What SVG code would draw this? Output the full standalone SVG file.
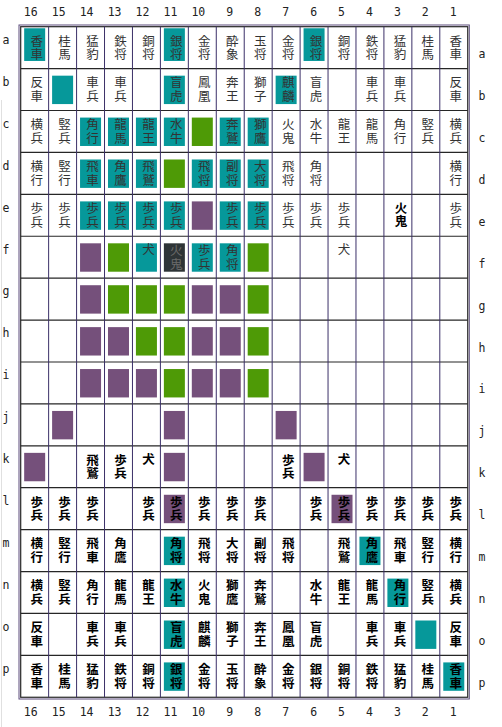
<svg xmlns="http://www.w3.org/2000/svg" width="502" height="727" viewBox="0 0 502 727">
<style>
.t{fill:#06989a}.g{fill:#4e9a06}.v{fill:#75507b}.k{fill:#2e3436}
text.p{font-family:"Noto Sans CJK JP","Noto Sans CJK SC",sans-serif;font-size:12.5px;text-anchor:middle;fill:#333}
text.b{font-weight:bold;fill:#000}
text.d{fill:#6a6a6a}
.lbl{font-family:"DejaVu Sans Mono",monospace;font-size:11.5px;fill:#222}
.cl{text-anchor:end}.rl{text-anchor:middle}
.hl{stroke:#262626;stroke-width:1.2}.vl{stroke:#3b3068;stroke-width:1}
</style>
<defs>
<rect id="sq" x="-10.5" y="-13.9" width="21" height="28.4"/>
<rect id="sqa" x="-10.5" y="-19.4" width="21" height="32.7"/>
</defs>
<rect width="502" height="727" fill="#fff"/>
<line x1="1.5" y1="100" x2="1.5" y2="727" stroke="#e0e0e0" stroke-width="1"/>
<g id="board">
<rect x="19" y="25" width="450.3" height="674" fill="none" stroke="#5c4d7d" stroke-width="1"/>
<rect x="20.7" y="26.7" width="447.04" height="670.56" fill="none" stroke="#262626" stroke-width="1.2"/>
<g class="hl">
<line x1="20.7" x2="467.74" y1="68.61" y2="68.61"/><line x1="20.7" x2="467.74" y1="110.52" y2="110.52"/><line x1="20.7" x2="467.74" y1="152.43" y2="152.43"/><line x1="20.7" x2="467.74" y1="194.34" y2="194.34"/><line x1="20.7" x2="467.74" y1="236.25" y2="236.25"/><line x1="20.7" x2="467.74" y1="278.16" y2="278.16"/><line x1="20.7" x2="467.74" y1="320.07" y2="320.07"/><line x1="20.7" x2="467.74" y1="361.98" y2="361.98"/><line x1="20.7" x2="467.74" y1="403.89" y2="403.89"/><line x1="20.7" x2="467.74" y1="445.8" y2="445.8"/><line x1="20.7" x2="467.74" y1="487.71" y2="487.71"/><line x1="20.7" x2="467.74" y1="529.62" y2="529.62"/><line x1="20.7" x2="467.74" y1="571.53" y2="571.53"/><line x1="20.7" x2="467.74" y1="613.44" y2="613.44"/><line x1="20.7" x2="467.74" y1="655.35" y2="655.35"/>
</g>
<g class="vl">
<line y1="26.7" y2="697.26" x1="48.64" x2="48.64"/><line y1="26.7" y2="697.26" x1="76.58" x2="76.58"/><line y1="26.7" y2="697.26" x1="104.52" x2="104.52"/><line y1="26.7" y2="697.26" x1="132.46" x2="132.46"/><line y1="26.7" y2="697.26" x1="160.4" x2="160.4"/><line y1="26.7" y2="697.26" x1="188.34" x2="188.34"/><line y1="26.7" y2="697.26" x1="216.28" x2="216.28"/><line y1="26.7" y2="697.26" x1="244.22" x2="244.22"/><line y1="26.7" y2="697.26" x1="272.16" x2="272.16"/><line y1="26.7" y2="697.26" x1="300.1" x2="300.1"/><line y1="26.7" y2="697.26" x1="328.04" x2="328.04"/><line y1="26.7" y2="697.26" x1="355.98" x2="355.98"/><line y1="26.7" y2="697.26" x1="383.92" x2="383.92"/><line y1="26.7" y2="697.26" x1="411.86" x2="411.86"/><line y1="26.7" y2="697.26" x1="439.8" x2="439.8"/>
</g>
</g>
<g id="labels" class="lbl">
<g class="cl">
<text x="37.7" y="16">16</text><text x="65.6" y="16">15</text><text x="93.5" y="16">14</text><text x="121.5" y="16">13</text><text x="149.4" y="16">12</text><text x="177.4" y="16">11</text><text x="205.3" y="16">10</text><text x="233.3" y="16">9</text><text x="261.2" y="16">8</text><text x="289.1" y="16">7</text><text x="317.1" y="16">6</text><text x="345" y="16">5</text><text x="373" y="16">4</text><text x="400.9" y="16">3</text><text x="428.8" y="16">2</text><text x="456.8" y="16">1</text>
<text x="37.7" y="716">16</text><text x="65.6" y="716">15</text><text x="93.5" y="716">14</text><text x="121.5" y="716">13</text><text x="149.4" y="716">12</text><text x="177.4" y="716">11</text><text x="205.3" y="716">10</text><text x="233.3" y="716">9</text><text x="261.2" y="716">8</text><text x="289.1" y="716">7</text><text x="317.1" y="716">6</text><text x="345" y="716">5</text><text x="373" y="716">4</text><text x="400.9" y="716">3</text><text x="428.8" y="716">2</text><text x="456.8" y="716">1</text>
</g>
<g class="rl">
<text x="6" y="44">a</text><text x="6" y="85.9">b</text><text x="6" y="127.8">c</text><text x="6" y="169.7">d</text><text x="6" y="211.6">e</text><text x="6" y="253.5">f</text><text x="6" y="295.4">g</text><text x="6" y="337.3">h</text><text x="6" y="379.2">i</text><text x="6" y="421.1">j</text><text x="6" y="463">k</text><text x="6" y="504.9">l</text><text x="6" y="546.8">m</text><text x="6" y="588.7">n</text><text x="6" y="630.6">o</text><text x="6" y="672.5">p</text>
<text x="482" y="58.2">a</text><text x="482" y="100.1">b</text><text x="482" y="142">c</text><text x="482" y="183.9">d</text><text x="482" y="225.8">e</text><text x="482" y="267.7">f</text><text x="482" y="309.6">g</text><text x="482" y="351.5">h</text><text x="482" y="393.4">i</text><text x="482" y="435.3">j</text><text x="482" y="477.2">k</text><text x="482" y="519.1">l</text><text x="482" y="561">m</text><text x="482" y="602.9">n</text><text x="482" y="644.8">o</text><text x="482" y="686.7">p</text>
</g>
</g>
<!-- row a -->
<g id="a16" transform="translate(34.67 47.66)"><use href="#sqa" class="t"/><text class="p" x="2" y="-2.1">香<tspan x="2" y="11.3">車</tspan></text></g>
<g id="a15" transform="translate(62.61 47.66)"><text class="p" x="2" y="-2.1">桂<tspan x="2" y="11.3">馬</tspan></text></g>
<g id="a14" transform="translate(90.55 47.66)"><text class="p" x="2" y="-2.1">猛<tspan x="2" y="11.3">豹</tspan></text></g>
<g id="a13" transform="translate(118.49 47.66)"><text class="p" x="2" y="-2.1">鉄<tspan x="2" y="11.3">将</tspan></text></g>
<g id="a12" transform="translate(146.43 47.66)"><text class="p" x="2" y="-2.1">銅<tspan x="2" y="11.3">将</tspan></text></g>
<g id="a11" transform="translate(174.37 47.66)"><use href="#sqa" class="t"/><text class="p" x="2" y="-2.1">銀<tspan x="2" y="11.3">将</tspan></text></g>
<g id="a10" transform="translate(202.31 47.66)"><text class="p" x="2" y="-2.1">金<tspan x="2" y="11.3">将</tspan></text></g>
<g id="a9" transform="translate(230.25 47.66)"><text class="p" x="2" y="-2.1">酔<tspan x="2" y="11.3">象</tspan></text></g>
<g id="a8" transform="translate(258.19 47.66)"><text class="p" x="2" y="-2.1">玉<tspan x="2" y="11.3">将</tspan></text></g>
<g id="a7" transform="translate(286.13 47.66)"><text class="p" x="2" y="-2.1">金<tspan x="2" y="11.3">将</tspan></text></g>
<g id="a6" transform="translate(314.07 47.66)"><use href="#sqa" class="t"/><text class="p" x="2" y="-2.1">銀<tspan x="2" y="11.3">将</tspan></text></g>
<g id="a5" transform="translate(342.01 47.66)"><text class="p" x="2" y="-2.1">銅<tspan x="2" y="11.3">将</tspan></text></g>
<g id="a4" transform="translate(369.95 47.66)"><text class="p" x="2" y="-2.1">鉄<tspan x="2" y="11.3">将</tspan></text></g>
<g id="a3" transform="translate(397.89 47.66)"><text class="p" x="2" y="-2.1">猛<tspan x="2" y="11.3">豹</tspan></text></g>
<g id="a2" transform="translate(425.83 47.66)"><text class="p" x="2" y="-2.1">桂<tspan x="2" y="11.3">馬</tspan></text></g>
<g id="a1" transform="translate(453.77 47.66)"><text class="p" x="2" y="-2.1">香<tspan x="2" y="11.3">車</tspan></text></g>
<!-- row b -->
<g id="b16" transform="translate(34.67 89.57)"><text class="p" x="2" y="-2.1">反<tspan x="2" y="11.3">車</tspan></text></g>
<g id="b15" transform="translate(62.61 89.57)"><use href="#sq" class="t"/></g>
<g id="b14" transform="translate(90.55 89.57)"><text class="p" x="2" y="-2.1">車<tspan x="2" y="11.3">兵</tspan></text></g>
<g id="b13" transform="translate(118.49 89.57)"><text class="p" x="2" y="-2.1">車<tspan x="2" y="11.3">兵</tspan></text></g>
<g id="b11" transform="translate(174.37 89.57)"><use href="#sq" class="t"/><text class="p" x="2" y="-2.1">盲<tspan x="2" y="11.3">虎</tspan></text></g>
<g id="b10" transform="translate(202.31 89.57)"><text class="p" x="2" y="-2.1">鳳<tspan x="2" y="11.3">凰</tspan></text></g>
<g id="b9" transform="translate(230.25 89.57)"><text class="p" x="2" y="-2.1">奔<tspan x="2" y="11.3">王</tspan></text></g>
<g id="b8" transform="translate(258.19 89.57)"><text class="p" x="2" y="-2.1">獅<tspan x="2" y="11.3">子</tspan></text></g>
<g id="b7" transform="translate(286.13 89.57)"><use href="#sq" class="t"/><text class="p" x="2" y="-2.1">麒<tspan x="2" y="11.3">麟</tspan></text></g>
<g id="b6" transform="translate(314.07 89.57)"><text class="p" x="2" y="-2.1">盲<tspan x="2" y="11.3">虎</tspan></text></g>
<g id="b4" transform="translate(369.95 89.57)"><text class="p" x="2" y="-2.1">車<tspan x="2" y="11.3">兵</tspan></text></g>
<g id="b3" transform="translate(397.89 89.57)"><text class="p" x="2" y="-2.1">車<tspan x="2" y="11.3">兵</tspan></text></g>
<g id="b1" transform="translate(453.77 89.57)"><text class="p" x="2" y="-2.1">反<tspan x="2" y="11.3">車</tspan></text></g>
<!-- row c -->
<g id="c16" transform="translate(34.67 131.48)"><text class="p" x="2" y="-2.1">横<tspan x="2" y="11.3">兵</tspan></text></g>
<g id="c15" transform="translate(62.61 131.48)"><text class="p" x="2" y="-2.1">竪<tspan x="2" y="11.3">兵</tspan></text></g>
<g id="c14" transform="translate(90.55 131.48)"><use href="#sq" class="t"/><text class="p" x="2" y="-2.1">角<tspan x="2" y="11.3">行</tspan></text></g>
<g id="c13" transform="translate(118.49 131.48)"><use href="#sq" class="t"/><text class="p" x="2" y="-2.1">龍<tspan x="2" y="11.3">馬</tspan></text></g>
<g id="c12" transform="translate(146.43 131.48)"><use href="#sq" class="t"/><text class="p" x="2" y="-2.1">龍<tspan x="2" y="11.3">王</tspan></text></g>
<g id="c11" transform="translate(174.37 131.48)"><use href="#sq" class="t"/><text class="p" x="2" y="-2.1">水<tspan x="2" y="11.3">牛</tspan></text></g>
<g id="c10" transform="translate(202.31 131.48)"><use href="#sq" class="g"/></g>
<g id="c9" transform="translate(230.25 131.48)"><use href="#sq" class="t"/><text class="p" x="2" y="-2.1">奔<tspan x="2" y="11.3">鷲</tspan></text></g>
<g id="c8" transform="translate(258.19 131.48)"><use href="#sq" class="t"/><text class="p" x="2" y="-2.1">獅<tspan x="2" y="11.3">鷹</tspan></text></g>
<g id="c7" transform="translate(286.13 131.48)"><text class="p" x="2" y="-2.1">火<tspan x="2" y="11.3">鬼</tspan></text></g>
<g id="c6" transform="translate(314.07 131.48)"><text class="p" x="2" y="-2.1">水<tspan x="2" y="11.3">牛</tspan></text></g>
<g id="c5" transform="translate(342.01 131.48)"><text class="p" x="2" y="-2.1">龍<tspan x="2" y="11.3">王</tspan></text></g>
<g id="c4" transform="translate(369.95 131.48)"><text class="p" x="2" y="-2.1">龍<tspan x="2" y="11.3">馬</tspan></text></g>
<g id="c3" transform="translate(397.89 131.48)"><text class="p" x="2" y="-2.1">角<tspan x="2" y="11.3">行</tspan></text></g>
<g id="c2" transform="translate(425.83 131.48)"><text class="p" x="2" y="-2.1">竪<tspan x="2" y="11.3">兵</tspan></text></g>
<g id="c1" transform="translate(453.77 131.48)"><text class="p" x="2" y="-2.1">横<tspan x="2" y="11.3">兵</tspan></text></g>
<!-- row d -->
<g id="d16" transform="translate(34.67 173.39)"><text class="p" x="2" y="-2.1">横<tspan x="2" y="11.3">行</tspan></text></g>
<g id="d15" transform="translate(62.61 173.39)"><text class="p" x="2" y="-2.1">竪<tspan x="2" y="11.3">行</tspan></text></g>
<g id="d14" transform="translate(90.55 173.39)"><use href="#sq" class="t"/><text class="p" x="2" y="-2.1">飛<tspan x="2" y="11.3">車</tspan></text></g>
<g id="d13" transform="translate(118.49 173.39)"><use href="#sq" class="t"/><text class="p" x="2" y="-2.1">角<tspan x="2" y="11.3">鷹</tspan></text></g>
<g id="d12" transform="translate(146.43 173.39)"><use href="#sq" class="t"/><text class="p" x="2" y="-2.1">飛<tspan x="2" y="11.3">鷲</tspan></text></g>
<g id="d11" transform="translate(174.37 173.39)"><use href="#sq" class="g"/></g>
<g id="d10" transform="translate(202.31 173.39)"><use href="#sq" class="t"/><text class="p" x="2" y="-2.1">飛<tspan x="2" y="11.3">将</tspan></text></g>
<g id="d9" transform="translate(230.25 173.39)"><use href="#sq" class="t"/><text class="p" x="2" y="-2.1">副<tspan x="2" y="11.3">将</tspan></text></g>
<g id="d8" transform="translate(258.19 173.39)"><use href="#sq" class="t"/><text class="p" x="2" y="-2.1">大<tspan x="2" y="11.3">将</tspan></text></g>
<g id="d7" transform="translate(286.13 173.39)"><text class="p" x="2" y="-2.1">飛<tspan x="2" y="11.3">将</tspan></text></g>
<g id="d6" transform="translate(314.07 173.39)"><text class="p" x="2" y="-2.1">角<tspan x="2" y="11.3">将</tspan></text></g>
<g id="d1" transform="translate(453.77 173.39)"><text class="p" x="2" y="-2.1">横<tspan x="2" y="11.3">行</tspan></text></g>
<!-- row e -->
<g id="e16" transform="translate(34.67 215.3)"><text class="p" x="2" y="-2.1">歩<tspan x="2" y="11.3">兵</tspan></text></g>
<g id="e15" transform="translate(62.61 215.3)"><text class="p" x="2" y="-2.1">歩<tspan x="2" y="11.3">兵</tspan></text></g>
<g id="e14" transform="translate(90.55 215.3)"><use href="#sq" class="t"/><text class="p" x="2" y="-2.1">歩<tspan x="2" y="11.3">兵</tspan></text></g>
<g id="e13" transform="translate(118.49 215.3)"><use href="#sq" class="t"/><text class="p" x="2" y="-2.1">歩<tspan x="2" y="11.3">兵</tspan></text></g>
<g id="e12" transform="translate(146.43 215.3)"><use href="#sq" class="t"/><text class="p" x="2" y="-2.1">歩<tspan x="2" y="11.3">兵</tspan></text></g>
<g id="e11" transform="translate(174.37 215.3)"><use href="#sq" class="t"/><text class="p" x="2" y="-2.1">歩<tspan x="2" y="11.3">兵</tspan></text></g>
<g id="e10" transform="translate(202.31 215.3)"><use href="#sq" class="v"/></g>
<g id="e9" transform="translate(230.25 215.3)"><use href="#sq" class="t"/><text class="p" x="2" y="-2.1">歩<tspan x="2" y="11.3">兵</tspan></text></g>
<g id="e8" transform="translate(258.19 215.3)"><use href="#sq" class="t"/><text class="p" x="2" y="-2.1">歩<tspan x="2" y="11.3">兵</tspan></text></g>
<g id="e7" transform="translate(286.13 215.3)"><text class="p" x="2" y="-2.1">歩<tspan x="2" y="11.3">兵</tspan></text></g>
<g id="e6" transform="translate(314.07 215.3)"><text class="p" x="2" y="-2.1">歩<tspan x="2" y="11.3">兵</tspan></text></g>
<g id="e5" transform="translate(342.01 215.3)"><text class="p" x="2" y="-2.1">歩<tspan x="2" y="11.3">兵</tspan></text></g>
<g id="e3" transform="translate(397.89 215.3)"><text class="p b" x="3" y="-2.6">火<tspan x="3" y="10.8">鬼</tspan></text></g>
<g id="e1" transform="translate(453.77 215.3)"><text class="p" x="2" y="-2.1">歩<tspan x="2" y="11.3">兵</tspan></text></g>
<!-- row f -->
<g id="f14" transform="translate(90.55 257.21)"><use href="#sq" class="v"/></g>
<g id="f13" transform="translate(118.49 257.21)"><use href="#sq" class="g"/></g>
<g id="f12" transform="translate(146.43 257.21)"><use href="#sq" class="t"/><text class="p" x="2" y="-3">犬</text></g>
<g id="f11" transform="translate(174.37 257.21)"><use href="#sq" class="k"/><text class="p d" x="2" y="-2.1">火<tspan x="2" y="11.3">鬼</tspan></text></g>
<g id="f10" transform="translate(202.31 257.21)"><use href="#sq" class="t"/><text class="p" x="2" y="-2.1">歩<tspan x="2" y="11.3">兵</tspan></text></g>
<g id="f9" transform="translate(230.25 257.21)"><use href="#sq" class="t"/><text class="p" x="2" y="-2.1">角<tspan x="2" y="11.3">将</tspan></text></g>
<g id="f8" transform="translate(258.19 257.21)"><use href="#sq" class="g"/></g>
<g id="f5" transform="translate(342.01 257.21)"><text class="p" x="2" y="-3">犬</text></g>
<!-- rows g h i -->
<g id="g14" transform="translate(90.55 299.12)"><use href="#sq" class="v"/></g>
<g id="g13" transform="translate(118.49 299.12)"><use href="#sq" class="g"/></g>
<g id="g12" transform="translate(146.43 299.12)"><use href="#sq" class="g"/></g>
<g id="g11" transform="translate(174.37 299.12)"><use href="#sq" class="g"/></g>
<g id="g10" transform="translate(202.31 299.12)"><use href="#sq" class="v"/></g>
<g id="g9" transform="translate(230.25 299.12)"><use href="#sq" class="v"/></g>
<g id="g8" transform="translate(258.19 299.12)"><use href="#sq" class="g"/></g>
<g id="h14" transform="translate(90.55 341.03)"><use href="#sq" class="v"/></g>
<g id="h13" transform="translate(118.49 341.03)"><use href="#sq" class="v"/></g>
<g id="h12" transform="translate(146.43 341.03)"><use href="#sq" class="g"/></g>
<g id="h11" transform="translate(174.37 341.03)"><use href="#sq" class="g"/></g>
<g id="h10" transform="translate(202.31 341.03)"><use href="#sq" class="v"/></g>
<g id="h9" transform="translate(230.25 341.03)"><use href="#sq" class="v"/></g>
<g id="h8" transform="translate(258.19 341.03)"><use href="#sq" class="g"/></g>
<g id="i14" transform="translate(90.55 382.94)"><use href="#sq" class="v"/></g>
<g id="i13" transform="translate(118.49 382.94)"><use href="#sq" class="v"/></g>
<g id="i12" transform="translate(146.43 382.94)"><use href="#sq" class="v"/></g>
<g id="i11" transform="translate(174.37 382.94)"><use href="#sq" class="g"/></g>
<g id="i10" transform="translate(202.31 382.94)"><use href="#sq" class="v"/></g>
<g id="i9" transform="translate(230.25 382.94)"><use href="#sq" class="v"/></g>
<g id="i8" transform="translate(258.19 382.94)"><use href="#sq" class="g"/></g>
<!-- row j -->
<g id="j15" transform="translate(62.61 424.85)"><use href="#sq" class="v"/></g>
<g id="j11" transform="translate(174.37 424.85)"><use href="#sq" class="v"/></g>
<g id="j7" transform="translate(286.13 424.85)"><use href="#sq" class="v"/></g>
<!-- row k -->
<g id="k16" transform="translate(34.67 466.76)"><use href="#sq" class="v"/></g>
<g id="k14" transform="translate(90.55 466.76)"><text class="p b" x="2" y="-2.1">飛<tspan x="2" y="11.3">鷲</tspan></text></g>
<g id="k13" transform="translate(118.49 466.76)"><text class="p b" x="2" y="-2.1">歩<tspan x="2" y="11.3">兵</tspan></text></g>
<g id="k12" transform="translate(146.43 466.76)"><text class="p b" x="2" y="-3">犬</text></g>
<g id="k11" transform="translate(174.37 466.76)"><use href="#sq" class="v"/></g>
<g id="k7" transform="translate(286.13 466.76)"><text class="p b" x="2" y="-2.1">歩<tspan x="2" y="11.3">兵</tspan></text></g>
<g id="k6" transform="translate(314.07 466.76)"><use href="#sq" class="v"/></g>
<g id="k5" transform="translate(342.01 466.76)"><text class="p b" x="2" y="-3">犬</text></g>
<!-- row l -->
<g id="l16" transform="translate(34.67 508.67)"><text class="p b" x="2" y="-2.1">歩<tspan x="2" y="11.3">兵</tspan></text></g>
<g id="l15" transform="translate(62.61 508.67)"><text class="p b" x="2" y="-2.1">歩<tspan x="2" y="11.3">兵</tspan></text></g>
<g id="l14" transform="translate(90.55 508.67)"><text class="p b" x="2" y="-2.1">歩<tspan x="2" y="11.3">兵</tspan></text></g>
<g id="l12" transform="translate(146.43 508.67)"><text class="p b" x="2" y="-2.1">歩<tspan x="2" y="11.3">兵</tspan></text></g>
<g id="l11" transform="translate(174.37 508.67)"><use href="#sq" class="v"/><text class="p b" x="2" y="-2.1">歩<tspan x="2" y="11.3">兵</tspan></text></g>
<g id="l10" transform="translate(202.31 508.67)"><text class="p b" x="2" y="-2.1">歩<tspan x="2" y="11.3">兵</tspan></text></g>
<g id="l9" transform="translate(230.25 508.67)"><text class="p b" x="2" y="-2.1">歩<tspan x="2" y="11.3">兵</tspan></text></g>
<g id="l8" transform="translate(258.19 508.67)"><text class="p b" x="2" y="-2.1">歩<tspan x="2" y="11.3">兵</tspan></text></g>
<g id="l6" transform="translate(314.07 508.67)"><text class="p b" x="2" y="-2.1">歩<tspan x="2" y="11.3">兵</tspan></text></g>
<g id="l5" transform="translate(342.01 508.67)"><use href="#sq" class="v"/><text class="p b" x="2" y="-2.1">歩<tspan x="2" y="11.3">兵</tspan></text></g>
<g id="l4" transform="translate(369.95 508.67)"><text class="p b" x="2" y="-2.1">歩<tspan x="2" y="11.3">兵</tspan></text></g>
<g id="l3" transform="translate(397.89 508.67)"><text class="p b" x="2" y="-2.1">歩<tspan x="2" y="11.3">兵</tspan></text></g>
<g id="l2" transform="translate(425.83 508.67)"><text class="p b" x="2" y="-2.1">歩<tspan x="2" y="11.3">兵</tspan></text></g>
<g id="l1" transform="translate(453.77 508.67)"><text class="p b" x="2" y="-2.1">歩<tspan x="2" y="11.3">兵</tspan></text></g>
<!-- row m -->
<g id="m16" transform="translate(34.67 550.58)"><text class="p b" x="2" y="-2.1">横<tspan x="2" y="11.3">行</tspan></text></g>
<g id="m15" transform="translate(62.61 550.58)"><text class="p b" x="2" y="-2.1">竪<tspan x="2" y="11.3">行</tspan></text></g>
<g id="m14" transform="translate(90.55 550.58)"><text class="p b" x="2" y="-2.1">飛<tspan x="2" y="11.3">車</tspan></text></g>
<g id="m13" transform="translate(118.49 550.58)"><text class="p b" x="2" y="-2.1">角<tspan x="2" y="11.3">鷹</tspan></text></g>
<g id="m11" transform="translate(174.37 550.58)"><use href="#sq" class="t"/><text class="p b" x="2" y="-2.1">角<tspan x="2" y="11.3">将</tspan></text></g>
<g id="m10" transform="translate(202.31 550.58)"><text class="p b" x="2" y="-2.1">飛<tspan x="2" y="11.3">将</tspan></text></g>
<g id="m9" transform="translate(230.25 550.58)"><text class="p b" x="2" y="-2.1">大<tspan x="2" y="11.3">将</tspan></text></g>
<g id="m8" transform="translate(258.19 550.58)"><text class="p b" x="2" y="-2.1">副<tspan x="2" y="11.3">将</tspan></text></g>
<g id="m7" transform="translate(286.13 550.58)"><text class="p b" x="2" y="-2.1">飛<tspan x="2" y="11.3">将</tspan></text></g>
<g id="m5" transform="translate(342.01 550.58)"><text class="p b" x="2" y="-2.1">飛<tspan x="2" y="11.3">鷲</tspan></text></g>
<g id="m4" transform="translate(369.95 550.58)"><use href="#sq" class="t"/><text class="p b" x="2" y="-2.1">角<tspan x="2" y="11.3">鷹</tspan></text></g>
<g id="m3" transform="translate(397.89 550.58)"><text class="p b" x="2" y="-2.1">飛<tspan x="2" y="11.3">車</tspan></text></g>
<g id="m2" transform="translate(425.83 550.58)"><text class="p b" x="2" y="-2.1">竪<tspan x="2" y="11.3">行</tspan></text></g>
<g id="m1" transform="translate(453.77 550.58)"><text class="p b" x="2" y="-2.1">横<tspan x="2" y="11.3">行</tspan></text></g>
<!-- row n -->
<g id="n16" transform="translate(34.67 592.49)"><text class="p b" x="2" y="-2.1">横<tspan x="2" y="11.3">兵</tspan></text></g>
<g id="n15" transform="translate(62.61 592.49)"><text class="p b" x="2" y="-2.1">竪<tspan x="2" y="11.3">兵</tspan></text></g>
<g id="n14" transform="translate(90.55 592.49)"><text class="p b" x="2" y="-2.1">角<tspan x="2" y="11.3">行</tspan></text></g>
<g id="n13" transform="translate(118.49 592.49)"><text class="p b" x="2" y="-2.1">龍<tspan x="2" y="11.3">馬</tspan></text></g>
<g id="n12" transform="translate(146.43 592.49)"><text class="p b" x="2" y="-2.1">龍<tspan x="2" y="11.3">王</tspan></text></g>
<g id="n11" transform="translate(174.37 592.49)"><use href="#sq" class="t"/><text class="p b" x="2" y="-2.1">水<tspan x="2" y="11.3">牛</tspan></text></g>
<g id="n10" transform="translate(202.31 592.49)"><text class="p b" x="2" y="-2.1">火<tspan x="2" y="11.3">鬼</tspan></text></g>
<g id="n9" transform="translate(230.25 592.49)"><text class="p b" x="2" y="-2.1">獅<tspan x="2" y="11.3">鷹</tspan></text></g>
<g id="n8" transform="translate(258.19 592.49)"><text class="p b" x="2" y="-2.1">奔<tspan x="2" y="11.3">鷲</tspan></text></g>
<g id="n6" transform="translate(314.07 592.49)"><text class="p b" x="2" y="-2.1">水<tspan x="2" y="11.3">牛</tspan></text></g>
<g id="n5" transform="translate(342.01 592.49)"><text class="p b" x="2" y="-2.1">龍<tspan x="2" y="11.3">王</tspan></text></g>
<g id="n4" transform="translate(369.95 592.49)"><text class="p b" x="2" y="-2.1">龍<tspan x="2" y="11.3">馬</tspan></text></g>
<g id="n3" transform="translate(397.89 592.49)"><use href="#sq" class="t"/><text class="p b" x="2" y="-2.1">角<tspan x="2" y="11.3">行</tspan></text></g>
<g id="n2" transform="translate(425.83 592.49)"><text class="p b" x="2" y="-2.1">竪<tspan x="2" y="11.3">兵</tspan></text></g>
<g id="n1" transform="translate(453.77 592.49)"><text class="p b" x="2" y="-2.1">横<tspan x="2" y="11.3">兵</tspan></text></g>
<!-- row o -->
<g id="o16" transform="translate(34.67 634.4)"><text class="p b" x="2" y="-2.1">反<tspan x="2" y="11.3">車</tspan></text></g>
<g id="o14" transform="translate(90.55 634.4)"><text class="p b" x="2" y="-2.1">車<tspan x="2" y="11.3">兵</tspan></text></g>
<g id="o13" transform="translate(118.49 634.4)"><text class="p b" x="2" y="-2.1">車<tspan x="2" y="11.3">兵</tspan></text></g>
<g id="o11" transform="translate(174.37 634.4)"><use href="#sq" class="t"/><text class="p b" x="2" y="-2.1">盲<tspan x="2" y="11.3">虎</tspan></text></g>
<g id="o10" transform="translate(202.31 634.4)"><text class="p b" x="2" y="-2.1">麒<tspan x="2" y="11.3">麟</tspan></text></g>
<g id="o9" transform="translate(230.25 634.4)"><text class="p b" x="2" y="-2.1">獅<tspan x="2" y="11.3">子</tspan></text></g>
<g id="o8" transform="translate(258.19 634.4)"><text class="p b" x="2" y="-2.1">奔<tspan x="2" y="11.3">王</tspan></text></g>
<g id="o7" transform="translate(286.13 634.4)"><text class="p b" x="2" y="-2.1">鳳<tspan x="2" y="11.3">凰</tspan></text></g>
<g id="o6" transform="translate(314.07 634.4)"><text class="p b" x="2" y="-2.1">盲<tspan x="2" y="11.3">虎</tspan></text></g>
<g id="o4" transform="translate(369.95 634.4)"><text class="p b" x="2" y="-2.1">車<tspan x="2" y="11.3">兵</tspan></text></g>
<g id="o3" transform="translate(397.89 634.4)"><text class="p b" x="2" y="-2.1">車<tspan x="2" y="11.3">兵</tspan></text></g>
<g id="o2" transform="translate(425.83 634.4)"><use href="#sq" class="t"/></g>
<g id="o1" transform="translate(453.77 634.4)"><text class="p b" x="2" y="-2.1">反<tspan x="2" y="11.3">車</tspan></text></g>
<!-- row p -->
<g id="p16" transform="translate(34.67 676.31)"><text class="p b" x="2" y="-2.1">香<tspan x="2" y="11.3">車</tspan></text></g>
<g id="p15" transform="translate(62.61 676.31)"><text class="p b" x="2" y="-2.1">桂<tspan x="2" y="11.3">馬</tspan></text></g>
<g id="p14" transform="translate(90.55 676.31)"><text class="p b" x="2" y="-2.1">猛<tspan x="2" y="11.3">豹</tspan></text></g>
<g id="p13" transform="translate(118.49 676.31)"><text class="p b" x="2" y="-2.1">鉄<tspan x="2" y="11.3">将</tspan></text></g>
<g id="p12" transform="translate(146.43 676.31)"><text class="p b" x="2" y="-2.1">銅<tspan x="2" y="11.3">将</tspan></text></g>
<g id="p11" transform="translate(174.37 676.31)"><use href="#sq" class="t"/><text class="p b" x="2" y="-2.1">銀<tspan x="2" y="11.3">将</tspan></text></g>
<g id="p10" transform="translate(202.31 676.31)"><text class="p b" x="2" y="-2.1">金<tspan x="2" y="11.3">将</tspan></text></g>
<g id="p9" transform="translate(230.25 676.31)"><text class="p b" x="2" y="-2.1">玉<tspan x="2" y="11.3">将</tspan></text></g>
<g id="p8" transform="translate(258.19 676.31)"><text class="p b" x="2" y="-2.1">酔<tspan x="2" y="11.3">象</tspan></text></g>
<g id="p7" transform="translate(286.13 676.31)"><text class="p b" x="2" y="-2.1">金<tspan x="2" y="11.3">将</tspan></text></g>
<g id="p6" transform="translate(314.07 676.31)"><text class="p b" x="2" y="-2.1">銀<tspan x="2" y="11.3">将</tspan></text></g>
<g id="p5" transform="translate(342.01 676.31)"><text class="p b" x="2" y="-2.1">銅<tspan x="2" y="11.3">将</tspan></text></g>
<g id="p4" transform="translate(369.95 676.31)"><text class="p b" x="2" y="-2.1">鉄<tspan x="2" y="11.3">将</tspan></text></g>
<g id="p3" transform="translate(397.89 676.31)"><text class="p b" x="2" y="-2.1">猛<tspan x="2" y="11.3">豹</tspan></text></g>
<g id="p2" transform="translate(425.83 676.31)"><text class="p b" x="2" y="-2.1">桂<tspan x="2" y="11.3">馬</tspan></text></g>
<g id="p1" transform="translate(453.77 676.31)"><use href="#sq" class="t"/><text class="p b" x="2" y="-2.1">香<tspan x="2" y="11.3">車</tspan></text></g>
</svg>
